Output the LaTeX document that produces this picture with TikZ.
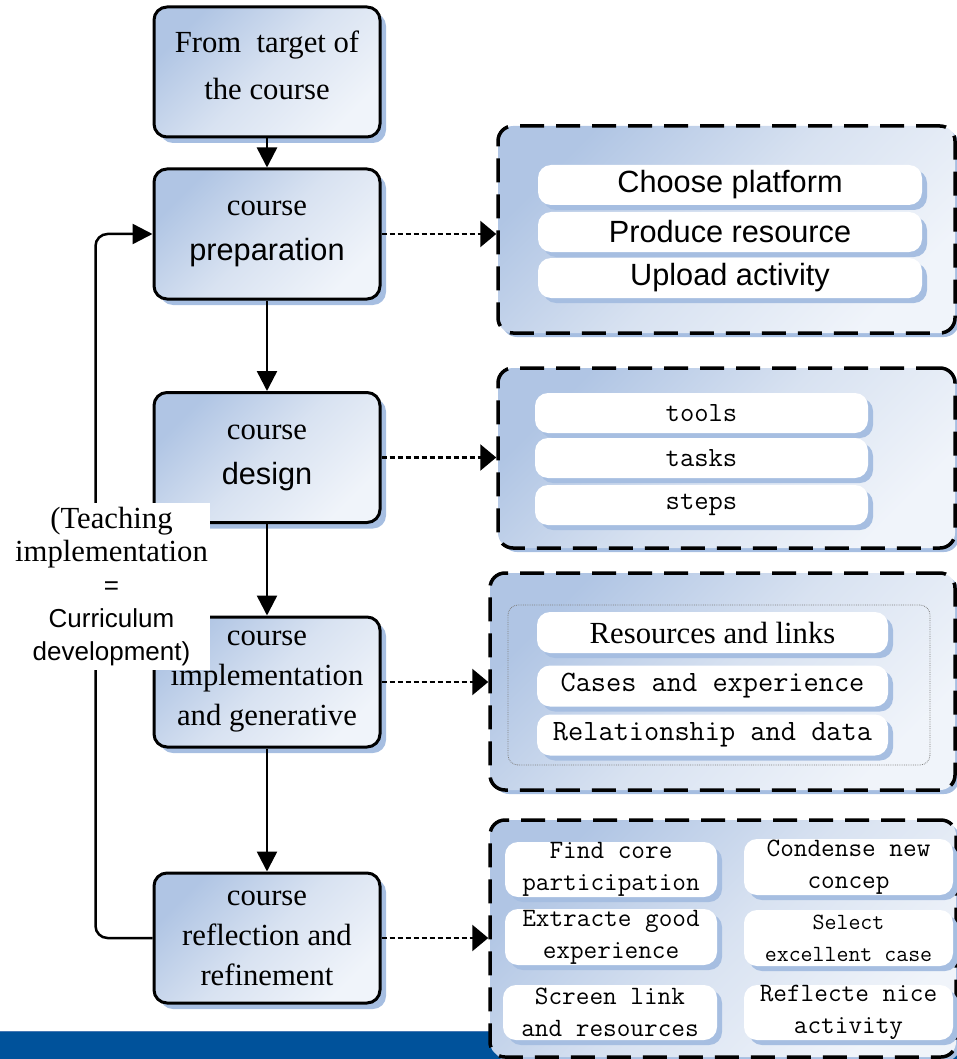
\documentclass[tikz,border=0pt]{standalone}
\usepackage{fontspec}
\setmainfont{Liberation Serif}
\setsansfont{Liberation Sans}
\usetikzlibrary{arrows.meta,shadows}
\definecolor{gTop}{RGB}{176,197,228}
\definecolor{gMid}{RGB}{216,226,241}
\definecolor{gBot}{RGB}{240,244,250}
\definecolor{shBlue}{RGB}{166,190,225}
\definecolor{barBlue}{RGB}{0,82,155}
\definecolor{barLine}{RGB}{70,120,180}
\begin{document}
\begin{tikzpicture}[x=1pt,y=-1pt,
  gradfill/.style={top color=gTop, bottom color=gBot, middle color=gMid, shading angle=45},
  mainbox/.style={gradfill, draw=black, line width=3pt, rounded corners=13pt,
    minimum width=226pt, minimum height=130pt, inner sep=0pt, align=center,
    general shadow={fill=shBlue, shadow xshift=6pt, shadow yshift=-6pt}},
  panel/.style={gradfill, draw=black, line width=3.5pt, dash pattern=on 24pt off 12pt,
    rounded corners=15pt, inner sep=0pt,
    general shadow={fill=shBlue, shadow xshift=4pt, shadow yshift=-4pt}},
  item/.style={fill=white, rounded corners=13pt, inner sep=0pt, align=center,
    general shadow={fill=shBlue, shadow xshift=5pt, shadow yshift=-5pt}},
  flow/.style={line width=2.5pt, -{Triangle[length=20pt,width=20pt]}},
  dotlink/.style={line width=2.5pt, dash pattern=on 5pt off 3pt, -{Triangle[length=16pt,width=26pt]}},
  serifA/.style={font=\fontsize{30.7}{45}\selectfont},
  serifB/.style={font=\fontsize{30.7}{40}\selectfont},
  sansA/.style={font=\sffamily\fontsize{30.7}{40}\selectfont},
  monoA/.style={font=\ttfamily\fontsize{27.8}{34}\selectfont},
  monoB/.style={font=\ttfamily\fontsize{29.5}{34}\selectfont},
  monoC/.style={font=\ttfamily\fontsize{26.5}{32}\selectfont},
  monoD/.style={font=\ttfamily\fontsize{23.2}{32}\selectfont},
]
\clip (0,0) rectangle (957,1059);
% bottom band
\fill[barBlue] (0,1031) rectangle (957,1059);
\draw[barLine, line width=1pt] (0,1031.5) -- (957,1031.5);

% main flow boxes
\node[mainbox, font=\fontsize{30.7}{47}\selectfont] (r1) at (267,72) {From~ target of\\the course\strut};
\node[mainbox, serifA] (r2) at (267,234) {course\\{\sffamily preparation}};
\node[mainbox, serifA] (r3) at (267,457.5) {course\\{\sffamily design}};
\node[mainbox, serifB] (r4) at (267,682) {course\\implementation\\and generative};
\node[mainbox, serifB] (r5) at (267,938) {course\\reflection and\\refinement};

% feedback loop
\draw[flow, rounded corners=12pt] (r5.west) -- ([xshift=-57pt]r5.west) |- (r2.west);

% vertical arrows
\draw[flow] (r1.south) -- (r2.north);
\draw[flow] (r2.south) -- (r3.north);
\draw[flow] (r3.south) -- (r4.north);
\draw[flow] (r4.south) -- (r5.north);

% panels
\node[panel, minimum width=457pt, minimum height=207pt] (p1) at (726.5,229.5) {};
\node[panel, minimum width=457pt, minimum height=180pt] (p2) at (726.5,458) {};
\node[panel, minimum width=465pt, minimum height=217pt] (p3) at (722.5,681.5) {};
\node[panel, minimum width=466pt, minimum height=237pt] (p4) at (723,938.5) {};

% dotted links
\draw[dotlink] (r2.east) -- (r2.east -| p1.west);
\draw[dotlink] (r3.east) -- (r3.east -| p2.west);
\draw[dotlink] (r4.east) -- (r4.east -| p3.west);
\draw[dotlink] (r5.east) -- (r5.east -| p4.west);

% panel 1 items
\node[item, sansA, minimum width=384pt, minimum height=40pt] (a1) at (730,185) {Choose platform};
\node[item, sansA, minimum width=384pt, minimum height=40pt] (a2) at (730,232) {Produce resource};
\node[item, sansA, minimum width=384pt, minimum height=40pt] (a3) at (730,278) {Upload activity};

% panel 2 items
\node[item, monoA, minimum width=333pt, minimum height=40pt] (b1) at (701.5,413) {tools};
\node[item, monoA, minimum width=333pt, minimum height=40pt] (b2) at (701.5,458) {tasks};
\node[item, monoA, minimum width=333pt, minimum height=40pt] (b3) at (701.5,505) {steps};

% panel 3 items
\node[draw=gray, densely dotted, line width=0.8pt, rounded corners=10pt,
  minimum width=422pt, minimum height=160pt, inner sep=0pt] (p3in) at (719,685) {};
\node[item, serifA, minimum width=351pt, minimum height=41pt] (c1) at (712.5,632.5) {Resources and links};
\node[item, monoB, minimum width=351pt, minimum height=41pt] (c2) at (712.5,686) {Cases and experience};
\node[item, monoB, minimum width=351pt, minimum height=41pt] (c3) at (712.5,735) {Relationship and data};

% panel 4 items
\node[item, monoC, minimum width=212pt, minimum height=55pt] (d1) at (611,869.5) {Find core\\participation};
\node[item, monoC, minimum width=209pt, minimum height=56pt] (d2) at (848.5,867) {Condense new\\concep};
\node[item, monoC, minimum width=212pt, minimum height=56pt] (d3) at (611,937) {Extracte good\\experience};
\node[item, monoD, minimum width=209pt, minimum height=56pt] (d4) at (848.5,938) {Select\\excellent case};
\node[item, monoC, minimum width=214pt, minimum height=55pt] (d5) at (610,1012.5) {Screen link\\and resources};
\node[item, monoC, minimum width=209pt, minimum height=55pt] (d6) at (848.5,1012.5) {Reflecte nice\\activity};

% side label
\node[fill=white, minimum width=197pt, minimum height=167pt, inner sep=0pt, align=center,
  font=\fontsize{30.7}{33}\selectfont] (lbl) at (111.5,586.5)
  {(Teaching\\implementation\\{\sffamily\fontsize{26}{33}\selectfont =}\\{\sffamily\fontsize{26}{33}\selectfont Curriculum}\\{\sffamily\fontsize{26}{33}\selectfont development)}};
\end{tikzpicture}
\end{document}
